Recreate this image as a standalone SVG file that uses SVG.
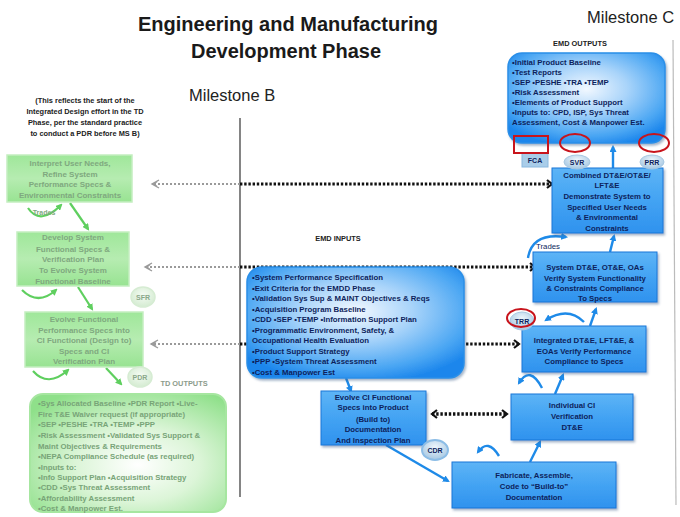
<svg xmlns="http://www.w3.org/2000/svg" width="680" height="517" viewBox="0 0 680 517">
  <style>
    .title { font-family: "Liberation Sans", Arial, sans-serif; font-weight: bold; font-size: 20px; fill: #1a1a1a; text-anchor: middle; }
    .ms { font-family: "Liberation Sans", Arial, sans-serif; font-size: 16.5px; fill: #222; }
    .note { font-family: "Liberation Sans", Arial, sans-serif; font-weight: bold; font-size: 7.4px; fill: #222; text-anchor: middle; }
    .lbl { font-family: "Liberation Sans", Arial, sans-serif; font-weight: bold; font-size: 7.4px; fill: #222; text-anchor: middle; }
    .gtxt { font-family: "Liberation Sans", Arial, sans-serif; font-weight: bold; font-size: 8px; fill: #7fa87f; text-anchor: middle; }
    .glist { font-family: "Liberation Sans", Arial, sans-serif; font-weight: bold; font-size: 7.8px; fill: #78a478; }
    .btxt { font-family: "Liberation Sans", Arial, sans-serif; font-weight: bold; font-size: 7.8px; fill: #0d1f5c; text-anchor: middle; }
    .blist { font-family: "Liberation Sans", Arial, sans-serif; font-weight: bold; font-size: 7.8px; fill: #0d1f5c; }
    .ctxt { font-family: "Liberation Sans", Arial, sans-serif; font-weight: bold; font-size: 7px; text-anchor: middle; }
    .gbox { fill: url(#gFill); stroke: #c4eec0; stroke-width: 1.5; }
    .bbox { fill: url(#bFill); stroke: #1877d8; stroke-width: 1; filter: url(#shadow); }
    .dotK { stroke: #111; stroke-width: 3; stroke-dasharray: 2.4 1.8; fill: none; }
    .dotG { stroke: #9a9a9a; stroke-width: 1.8; stroke-dasharray: 2 2; fill: none; }
    .garr { stroke: #5fcf5f; stroke-width: 2.2; fill: none; }
    .barr { stroke: #1e8ae8; stroke-width: 2.4; fill: none; }
    .red { stroke: #c8141c; stroke-width: 2; fill: none; }
    .msline { stroke: #333; stroke-width: 1.2; }
  </style>
  <defs>
    <linearGradient id="gFill" x1="0" y1="0" x2="0" y2="1">
      <stop offset="0" stop-color="#9fe79a"/>
      <stop offset="0.5" stop-color="#b6ecb1"/>
      <stop offset="1" stop-color="#98e392"/>
    </linearGradient>
    <radialGradient id="gRound" cx="0.55" cy="0.6" r="0.7">
      <stop offset="0" stop-color="#ffffff"/>
      <stop offset="0.45" stop-color="#dcf5d8"/>
      <stop offset="1" stop-color="#8fe08a"/>
    </radialGradient>
    <linearGradient id="bFill" x1="0" y1="0" x2="0" y2="1">
      <stop offset="0" stop-color="#5db4f6"/>
      <stop offset="0.5" stop-color="#43a3f3"/>
      <stop offset="1" stop-color="#2f92ee"/>
    </linearGradient>
    <radialGradient id="bRound" cx="0.5" cy="0.4" r="0.65">
      <stop offset="0" stop-color="#f2f8ff"/>
      <stop offset="0.4" stop-color="#a9d4fa"/>
      <stop offset="0.8" stop-color="#4aa6f3"/>
      <stop offset="1" stop-color="#1c86ec"/>
    </radialGradient>
    <radialGradient id="tag" cx="0.5" cy="0.35" r="0.7">
      <stop offset="0" stop-color="#eef6fc"/>
      <stop offset="1" stop-color="#9fc3e0"/>
    </radialGradient>
    <radialGradient id="gtag" cx="0.5" cy="0.4" r="0.7">
      <stop offset="0" stop-color="#f4fbf3"/>
      <stop offset="1" stop-color="#cfe9cc"/>
    </radialGradient>
    <filter id="shadow" x="-10%" y="-10%" width="125%" height="130%">
      <feDropShadow dx="1.5" dy="2" stdDeviation="1.2" flood-color="#3a5f8a" flood-opacity="0.45"/>
    </filter>
    <marker id="chevK" viewBox="0 0 8 10" refX="6" refY="5" markerWidth="8" markerHeight="10" markerUnits="userSpaceOnUse" orient="auto-start-reverse">
      <path d="M1,1 L6,5 L1,9" fill="none" stroke="#111" stroke-width="2.2"/>
    </marker>
    <marker id="chevG" viewBox="0 0 10 10" refX="8" refY="5" markerWidth="10" markerHeight="10" markerUnits="userSpaceOnUse" orient="auto-start-reverse">
      <path d="M1,1 L8,5 L1,9 M3,2.5 L6,5 L3,7.5" fill="none" stroke="#9a9a9a" stroke-width="1.4"/>
    </marker>
    <marker id="triG" viewBox="0 0 10 10" refX="7" refY="5" markerWidth="7" markerHeight="7" markerUnits="userSpaceOnUse" orient="auto">
      <path d="M0,0 L10,5 L0,10 z" fill="#5fcf5f"/>
    </marker>
    <marker id="triB" viewBox="0 0 10 10" refX="7" refY="5" markerWidth="7" markerHeight="7" markerUnits="userSpaceOnUse" orient="auto">
      <path d="M0,0 L10,5 L0,10 z" fill="#1e8ae8"/>
    </marker>
  </defs>

  <rect width="680" height="517" fill="#ffffff"/>

  <!-- headings -->
  <text class="title" x="288" y="31">Engineering and Manufacturing</text>
  <text class="title" x="286" y="58">Development Phase</text>
  <text class="ms" x="587" y="23">Milestone C</text>
  <text class="ms" x="189" y="101">Milestone B</text>
  <text class="note" x="85" y="103">(This reflects the start of the</text>
  <text class="note" x="85" y="114">Integrated Design effort in the TD</text>
  <text class="note" x="85" y="125">Phase, per the standard practice</text>
  <text class="note" x="85" y="136">to conduct a PDR before MS B)</text>
  <text class="lbl" x="338" y="241">EMD INPUTS</text>
  <text class="lbl" x="580" y="46">EMD OUTPUTS</text>
  <text class="lbl" x="184" y="386" style="fill:#8c9c8c">TD OUTPUTS</text>

  <!-- milestone lines -->
  <line class="msline" x1="240" y1="118" x2="240" y2="497"/>
  <line x1="673" y1="40" x2="676" y2="505" stroke="#bbbbbb" stroke-width="1.2"/>

  <!-- connectors -->
  <g id="connectors">
    <!-- dotted information flows -->
    <line class="dotG" x1="240" y1="184" x2="152" y2="184" marker-end="url(#chevG)"/>
    <line class="dotK" x1="240" y1="184" x2="552" y2="184" marker-end="url(#chevK)"/>
    <line class="dotG" x1="240" y1="267" x2="145" y2="267" marker-end="url(#chevG)"/>
    <line class="dotK" x1="240" y1="267" x2="535" y2="267" marker-end="url(#chevK)"/>
    <line class="dotG" x1="240" y1="344" x2="151" y2="344" marker-end="url(#chevG)"/>
    <line class="dotK" x1="240" y1="344" x2="248" y2="344"/>
    <line class="dotK" x1="466" y1="344" x2="519" y2="344" marker-end="url(#chevK)"/>
    <line class="dotK" x1="432" y1="414" x2="507" y2="414" style="stroke-width:3.6" marker-start="url(#chevK)" marker-end="url(#chevK)"/>

    <!-- green flow (TD phase) -->
    <path class="garr" d="M70,203 L88,229" marker-end="url(#triG)"/>
    <path class="garr" d="M78,287 L92,309" marker-end="url(#triG)"/>
    <path class="garr" d="M106,368 L121,384" marker-end="url(#triG)"/>
    <path class="garr" d="M28,208 Q40,226 61,205" marker-end="url(#triG)"/>
    <path class="garr" d="M22,290 Q38,306 56,290" marker-end="url(#triG)"/>
    <path class="garr" d="M33,371 Q48,388 68,370" marker-end="url(#triG)"/>

    <!-- blue flow (EMD phase) -->
    <path class="barr" d="M346,378 L351,391" marker-end="url(#triB)"/>
    <path class="barr" d="M386,445 L448,481" marker-end="url(#triB)"/>
    <path class="barr" d="M530,462 L540,442" marker-end="url(#triB)"/>
    <path class="barr" d="M499,456 Q488,438 478,452" marker-end="url(#triB)"/>
    <path class="barr" d="M555,394 L563,375" marker-end="url(#triB)"/>
    <path class="barr" d="M542,388 Q530,365 519,383" marker-end="url(#triB)"/>
    <path class="barr" d="M590,326 L596,309" marker-end="url(#triB)"/>
    <path class="barr" d="M584,322 Q568,306 546,320" marker-end="url(#triB)"/>
    <path class="barr" d="M610,252 L614,236" marker-end="url(#triB)"/>
    <path class="barr" d="M528,258 Q532,232 566,237" marker-end="url(#triB)"/>
    <path class="barr" d="M613,168 L613,147" marker-end="url(#triB)"/>
  </g>

  <!-- TD phase (green) -->
  <g id="interpret-needs">
    <rect class="gbox" x="7" y="155" width="125" height="47"/>
    <text class="gtxt" x="70" y="166">Interpret User Needs,</text>
    <text class="gtxt" x="70" y="176.5">Refine System</text>
    <text class="gtxt" x="70" y="187">Performance Specs &amp;</text>
    <text class="gtxt" x="70" y="197.5">Environmental Constraints</text>
    <text class="gtxt" x="44" y="215" style="font-size:7px">Trades</text>
  </g>
  <g id="develop-functional">
    <rect class="gbox" x="17" y="232" width="112" height="54"/>
    <text class="gtxt" x="73" y="240">Develop System</text>
    <text class="gtxt" x="73" y="251.5">Functional Specs &amp;</text>
    <text class="gtxt" x="73" y="262">Verification Plan</text>
    <text class="gtxt" x="73" y="273">To Evolve System</text>
    <text class="gtxt" x="73" y="284">Functional Baseline</text>
  </g>
  <g id="sfr">
    <ellipse cx="143" cy="297" rx="12" ry="10" fill="url(#gtag)" stroke="#d6ecd3" stroke-width="1.5"/>
    <text class="ctxt" x="143" y="299.5" fill="#8aa88a">SFR</text>
  </g>
  <g id="evolve-functional">
    <rect class="gbox" x="25" y="312" width="118" height="55"/>
    <text class="gtxt" x="84" y="322">Evolve Functional</text>
    <text class="gtxt" x="84" y="332.5">Performance Specs into</text>
    <text class="gtxt" x="84" y="343">CI Functional (Design to)</text>
    <text class="gtxt" x="84" y="353.5">Specs and CI</text>
    <text class="gtxt" x="84" y="364">Verification Plan</text>
  </g>
  <g id="pdr">
    <ellipse cx="140" cy="377" rx="12" ry="10" fill="url(#gtag)" stroke="#d6ecd3" stroke-width="1.5"/>
    <text class="ctxt" x="140" y="379.5" fill="#8aa88a">PDR</text>
  </g>
  <g id="td-outputs">
    <rect x="30" y="394" width="196" height="118" rx="13" fill="url(#gRound)" stroke="#a6e6a0" stroke-width="2"/>
    <text class="glist" x="38" y="406">•Sys Allocated Baseline •PDR Report •Live-</text>
    <text class="glist" x="38" y="416.5">Fire T&amp;E Waiver request (if appropriate)</text>
    <text class="glist" x="38" y="427">•SEP •PESHE •TRA •TEMP •PPP</text>
    <text class="glist" x="38" y="438">•Risk Assessment •Validated Sys Support &amp;</text>
    <text class="glist" x="38" y="448.5">Maint Objectives &amp; Requirements</text>
    <text class="glist" x="38" y="459">•NEPA Compliance Schedule (as required)</text>
    <text class="glist" x="38" y="469.5">•Inputs to:</text>
    <text class="glist" x="38" y="480">•Info Support Plan •Acquisition Strategy</text>
    <text class="glist" x="38" y="490">•CDD •Sys Threat Assessment</text>
    <text class="glist" x="38" y="500.5">•Affordability Assessment</text>
    <text class="glist" x="38" y="511">•Cost &amp; Manpower Est.</text>
  </g>

  <!-- EMD phase (blue) -->
  <g id="emd-inputs">
    <rect x="247" y="267" width="217" height="111" rx="15" fill="url(#bRound)" stroke="#2a8fe8" stroke-width="1.5" filter="url(#shadow)"/>
    <text class="blist" x="252" y="280">•System Performance Specification</text>
    <text class="blist" x="252" y="290.5">•Exit Criteria for the EMDD Phase</text>
    <text class="blist" x="252" y="301">•Validation Sys Sup &amp; MAINT Objectives &amp; Reqs</text>
    <text class="blist" x="252" y="311.5">•Acquisition Program Baseline</text>
    <text class="blist" x="252" y="322">•CDD •SEP •TEMP •Information Support Plan</text>
    <text class="blist" x="252" y="332.5">•Programmatic Environment, Safety, &amp;</text>
    <text class="blist" x="252" y="343">Occupational Health Evaluation</text>
    <text class="blist" x="252" y="353.5">•Product Support Strategy</text>
    <text class="blist" x="252" y="364">•PPP •System Threat Assessment</text>
    <text class="blist" x="252" y="374.5">•Cost &amp; Manpower Est</text>
  </g>
  <g id="evolve-ci">
    <rect class="bbox" x="321" y="391" width="105" height="54"/>
    <text class="btxt" x="373" y="400">Evolve CI Functional</text>
    <text class="btxt" x="373" y="410">Specs into Product</text>
    <text class="btxt" x="373" y="421.5">(Build to)</text>
    <text class="btxt" x="373" y="432">Documentation</text>
    <text class="btxt" x="373" y="442.5">And Inspection Plan</text>
  </g>
  <g id="cdr">
    <ellipse cx="435" cy="450" rx="13" ry="10" fill="url(#tag)" stroke="#8cbde6" stroke-width="2"/>
    <text class="ctxt" x="435" y="452.5" fill="#0d1f5c">CDR</text>
  </g>
  <g id="fabricate">
    <rect class="bbox" x="452" y="462" width="164" height="46"/>
    <text class="btxt" x="534" y="478">Fabricate, Assemble,</text>
    <text class="btxt" x="534" y="489">Code to “Build-to”</text>
    <text class="btxt" x="534" y="500">Documentation</text>
  </g>
  <g id="individual-ci">
    <rect class="bbox" x="511" y="394" width="122" height="46"/>
    <text class="btxt" x="572" y="408">Individual CI</text>
    <text class="btxt" x="572" y="419">Verification</text>
    <text class="btxt" x="572" y="430">DT&amp;E</text>
  </g>
  <g id="integrated-test">
    <rect class="bbox" x="522" y="326" width="124" height="46"/>
    <text class="btxt" x="584" y="343">Integrated DT&amp;E, LFT&amp;E, &amp;</text>
    <text class="btxt" x="584" y="353.5">EOAs Verify Performance</text>
    <text class="btxt" x="584" y="364">Compliance to Specs</text>
  </g>
  <g id="trr">
    <ellipse cx="522" cy="321" rx="12" ry="9" fill="url(#tag)" stroke="#a9c9e2" stroke-width="1"/>
    <text class="ctxt" x="522" y="323.5" fill="#0d1f5c">TRR</text>
    <ellipse class="red" cx="521" cy="318" rx="14" ry="9"/>
  </g>
  <g id="system-test">
    <rect class="bbox" x="533" y="252" width="124" height="50"/>
    <text class="btxt" x="595" y="270">System DT&amp;E, OT&amp;E, OAs</text>
    <text class="btxt" x="595" y="281">Verify System Functionality</text>
    <text class="btxt" x="595" y="291">&amp; Constraints Compliance</text>
    <text class="btxt" x="595" y="301">To Specs</text>
    <text class="btxt" x="548" y="249" style="font-weight:normal">Trades</text>
  </g>
  <g id="combined-test">
    <rect class="bbox" x="552" y="168" width="111" height="65"/>
    <text class="btxt" x="607" y="178">Combined DT&amp;E/OT&amp;E/</text>
    <text class="btxt" x="607" y="188">LFT&amp;E</text>
    <text class="btxt" x="607" y="199">Demonstrate System to</text>
    <text class="btxt" x="607" y="209.5">Specified User Needs</text>
    <text class="btxt" x="607" y="220">&amp; Environmental</text>
    <text class="btxt" x="607" y="230.5">Constraints</text>
  </g>
  <g id="emd-outputs">
    <rect x="508" y="53" width="157" height="90" rx="14" fill="url(#bRound)" stroke="#2a8fe8" stroke-width="1.5" filter="url(#shadow)"/>
    <text class="blist" x="512" y="65">•Initial Product Baseline</text>
    <text class="blist" x="512" y="74.5">•Test Reports</text>
    <text class="blist" x="512" y="85">•SEP •PESHE •TRA •TEMP</text>
    <text class="blist" x="512" y="95">•Risk  Assessment</text>
    <text class="blist" x="512" y="105">•Elements of Product Support</text>
    <text class="blist" x="512" y="114.5">•Inputs to: CPD, ISP, Sys Threat</text>
    <text class="blist" x="512" y="124.5">Assessment, Cost &amp; Manpower Est.</text>
  </g>
  <!-- review markers, drawn over the outputs box -->
  <g id="fca">
    <rect x="522" y="153" width="26" height="14" fill="#a9cde9" stroke="#8ab8de" stroke-width="1"/>
    <text class="ctxt" x="535" y="163" fill="#0d1f5c">FCA</text>
    <rect class="red" x="514" y="136" width="34" height="17"/>
  </g>
  <g id="svr">
    <ellipse cx="577" cy="162" rx="13" ry="7" fill="url(#tag)" stroke="#a9c9e2" stroke-width="1"/>
    <text class="ctxt" x="577" y="164.5" fill="#0d1f5c">SVR</text>
    <ellipse class="red" cx="575" cy="143" rx="15" ry="9"/>
  </g>
  <g id="prr">
    <ellipse cx="652" cy="162" rx="12" ry="7" fill="url(#tag)" stroke="#a9c9e2" stroke-width="1"/>
    <text class="ctxt" x="652" y="164.5" fill="#0d1f5c">PRR</text>
    <ellipse class="red" cx="654" cy="143" rx="15" ry="9"/>
  </g>
</svg>
